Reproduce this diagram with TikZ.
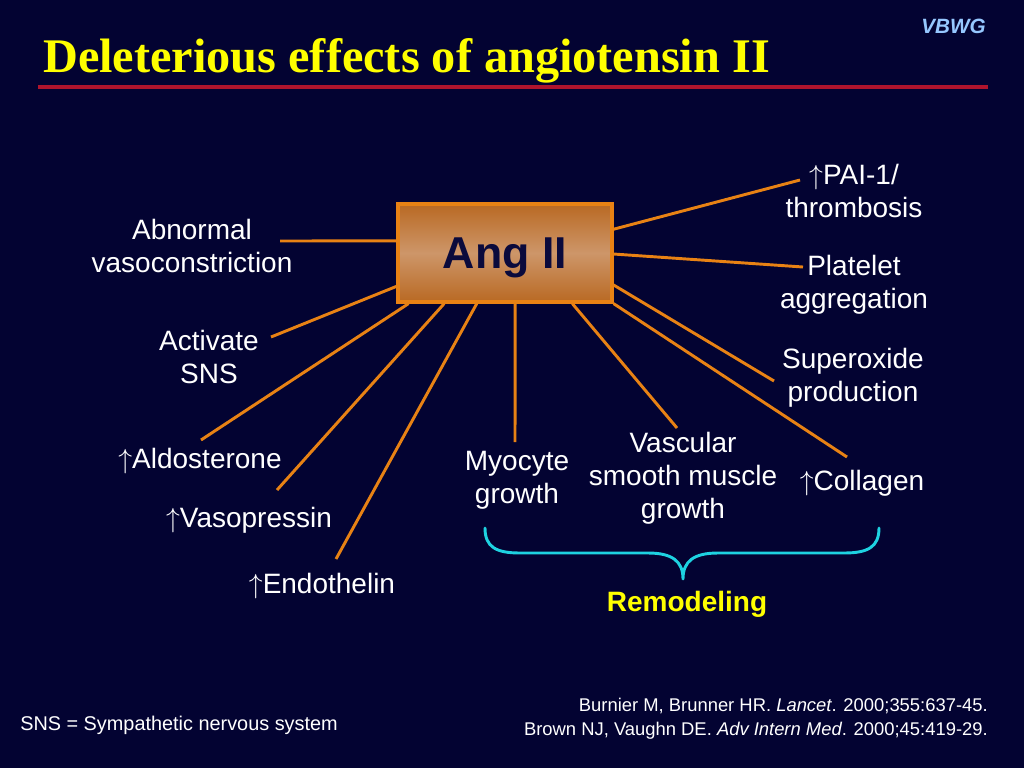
\documentclass[tikz,border=0pt]{standalone}
\usepackage{fontspec}
\setmainfont{Liberation Sans}
\newfontfamily\titlefont{Liberation Serif}
\usetikzlibrary{calc}
\definecolor{bgc}{RGB}{3,3,50}
\definecolor{orangeline}{RGB}{232,130,20}
\definecolor{boxtop}{RGB}{185,105,35}
\definecolor{boxmid}{RGB}{205,150,105}
\definecolor{angtext}{RGB}{10,10,60}
\definecolor{rulered}{RGB}{175,20,45}
\definecolor{vbwgc}{RGB}{150,200,255}
\definecolor{bracec}{RGB}{30,210,225}
\definecolor{titley}{RGB}{255,255,0}
\begin{document}
\begin{tikzpicture}[x=0.75pt,y=-0.75pt,
  lab/.style={text=white,font=\fontsize{21}{24.75}\selectfont,align=center,inner sep=0pt},
  conn/.style={draw=orangeline,line width=2.2pt},
  angbox/.style={draw=orangeline,line width=2.4pt,top color=boxtop,bottom color=boxtop,middle color=boxmid,
    minimum width=160.5pt,minimum height=73.5pt,inner sep=0pt,text depth=0pt,text=angtext,font=\fontsize{33.5}{36}\selectfont\bfseries},
  foot/.style={text=white,font=\fontsize{14.9}{18}\selectfont,inner sep=0pt},
  reffoot/.style={text=white,font=\fontsize{13.8}{18}\selectfont,inner sep=0pt},
  bracestyle/.style={draw=bracec,line width=2.2pt,line cap=round,line join=round}]
\useasboundingbox (0,0) rectangle (1024,768);
\fill[bgc] (0,0) rectangle (1024,768);

% title
\node[anchor=base west,inner sep=0pt,text=titley,font=\titlefont\bfseries\fontsize{36.2}{40}\selectfont] (title) at (43,72) {Deleterious effects of angiotensin II};
\node[anchor=base east,inner sep=0pt,text=vbwgc,font=\fontsize{15.5}{18}\selectfont\bfseries\itshape] (vbwg) at (986,33) {VBWG};
\draw[rulered,line width=2.3pt] (38,87) -- (988,87);

% central box
\node[angbox] (ang) at (505,253) {Ang II};

% labels
\node[lab] (abn) at (192,246) {Abnormal\\vasoconstriction};
\node[lab] (sns) at (209,357) {Activate\\SNS};
\node[lab] (ald) at (200,461) {$\uparrow$Aldosterone};
\node[lab] (vas) at (249,520) {$\uparrow$Vasopressin};
\node[lab] (endo) at (322,586) {$\uparrow$Endothelin};
\node[lab] (myo) at (517,480) {Myocyte\\growth};
\node[lab] (vsm) at (683,478) {Vascular\\smooth muscle\\growth};
\node[lab] (col) at (862,483) {$\uparrow$Collagen};
\node[lab] (sup) at (853,378) {Superoxide\\production};
\node[lab] (pla) at (854,285) {Platelet\\aggregation};
\node[lab] (pai) at (854,191) {$\uparrow$PAI-1/\\thrombosis};

% free ends of connectors
\coordinate (eabn) at (280,241);
\coordinate (esns) at (271,337);
\coordinate (eald) at (201,440);
\coordinate (evas) at (277,490);
\coordinate (eendo) at (336,559);
\coordinate (emyo) at (515,442);
\coordinate (evsm) at (677,428);
\coordinate (ecol) at (847,457);
\coordinate (esup) at (774,381);
\coordinate (epla) at (803,267);
\coordinate (epai) at (800,180);

% connectors
\draw[conn] ($(ang.north west)!0.38!(ang.south west)$) -- (eabn);
\draw[conn] ($(ang.north west)!0.83!(ang.south west)$) -- (esns);
\draw[conn] ($(ang.south west)!0.056!(ang.south east)$) -- (eald);
\draw[conn] ($(ang.south west)!0.22!(ang.south east)$) -- (evas);
\draw[conn] ($(ang.south west)!0.37!(ang.south east)$) -- (eendo);
\draw[conn] ($(ang.south west)!0.547!(ang.south east)$) -- (emyo);
\draw[conn] ($(ang.south west)!0.81!(ang.south east)$) -- (evsm);
\draw[conn] (ang.south east) -- (ecol);
\draw[conn] ($(ang.north east)!0.816!(ang.south east)$) -- (esup);
\draw[conn] ($(ang.north east)!0.51!(ang.south east)$) -- (epla);
\draw[conn] ($(ang.north east)!0.265!(ang.south east)$) -- (epai);

% brace
\draw[bracestyle] (485,528) .. controls (485,547) and (496,553) .. (520,553) -- (648,553)
  .. controls (672,553) and (683,561) .. (683,579)
  .. controls (683,561) and (694,553) .. (718,553) -- (844,553)
  .. controls (868,553) and (879,547) .. (879,528);
\node[inner sep=0pt,text=titley,font=\fontsize{21}{24}\selectfont\bfseries] (remod) at (687,604) {Remodeling};

% footnotes
\node[foot,anchor=base west] (snsdef) at (20,730) {SNS = Sympathetic nervous system};
\node[reffoot,anchor=base east] (ref1) at (988,711) {Burnier M, Brunner HR. \textit{Lancet}. 2000;355:637-45.};
\node[reffoot,anchor=base east] (ref2) at (988,735) {Brown NJ, Vaughn DE. \textit{Adv Intern Med}. 2000;45:419-29.};
\end{tikzpicture}
\end{document}
